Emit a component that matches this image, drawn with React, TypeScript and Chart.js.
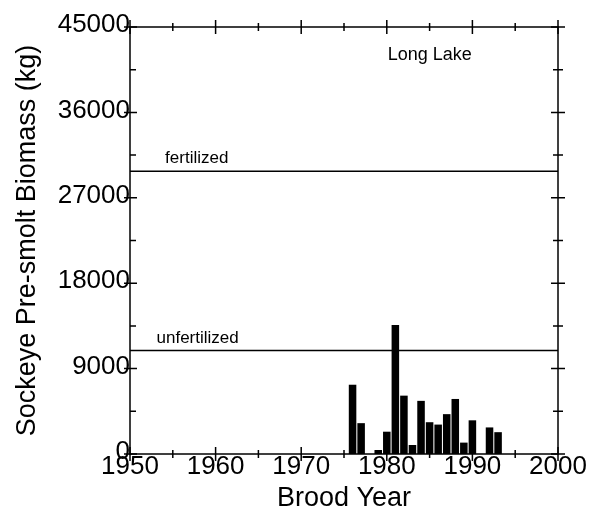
import { useEffect, useRef } from "react";
import { Chart, registerables } from "chart.js";

Chart.register(...registerables);

// ---- data ----
const broodYears = [1976, 1977, 1979, 1980, 1981, 1982, 1983, 1984, 1985, 1986, 1987, 1988, 1989, 1990, 1992, 1993];
const biomassKg = [7300, 3250, 420, 2350, 13600, 6150, 950, 5600, 3350, 3100, 4200, 5800, 1200, 3550, 2800, 2300];
const xRange = [1950, 2000];
const yRange = [0, 45000];
const xTickStep = 10;
const xMinorStep = 5;
const yTickStep = 9000;
const yMinorStep = 4500;
const fertilizedLevel = 29800;
const unfertilizedLevel = 10900;
const lakeName = "Long Lake";
const fertilizedLabel = "fertilized";
const unfertilizedLabel = "unfertilized";
const xTitle = "Brood Year";
const yTitle = "Sockeye Pre-smolt Biomass (kg)";

const FONT = '"Liberation Sans", Arial, Helvetica, sans-serif';

export default function App() {
  const ref = useRef<HTMLCanvasElement>(null);

  useEffect(() => {
    if (!ref.current) return;

    const framePlugin = {
      id: "frame",
      afterDraw(chart: any) {
        const { ctx, chartArea: a, scales } = chart;
        const x = scales.x;
        const y = scales.y;
        ctx.save();
        ctx.strokeStyle = "#000";
        ctx.lineWidth = 1.5;
        ctx.strokeRect(a.left, a.top, a.right - a.left, a.bottom - a.top);
        ctx.beginPath();
        for (let v = xRange[0]; v <= xRange[1]; v += xMinorStep) {
          const px = x.getPixelForValue(v);
          const major = v % xTickStep === 0;
          const h = major ? 7 : 4;
          ctx.moveTo(px, a.bottom - h);
          ctx.lineTo(px, a.bottom + h);
          ctx.moveTo(px, a.top - h);
          ctx.lineTo(px, a.top + h);
        }
        for (let v = yRange[0]; v <= yRange[1]; v += yMinorStep) {
          const py = y.getPixelForValue(v);
          const major = v % yTickStep === 0;
          if (major) {
            ctx.moveTo(a.left - 6, py);
            ctx.lineTo(a.left + 7, py);
          } else {
            ctx.moveTo(a.left, py);
            ctx.lineTo(a.left + 6, py);
          }
          const h = major ? 7 : 5;
          ctx.moveTo(a.right - h, py);
          ctx.lineTo(a.right + h, py);
        }
        ctx.stroke();

        ctx.fillStyle = "#000";
        ctx.textBaseline = "alphabetic";
        ctx.textAlign = "left";
        ctx.font = `18px ${FONT}`;
        ctx.fillText(lakeName, x.getPixelForValue(1980.1), y.getPixelForValue(41500));
        ctx.font = `17px ${FONT}`;
        ctx.fillText(fertilizedLabel, x.getPixelForValue(1954.1), y.getPixelForValue(fertilizedLevel) - 8);
        ctx.fillText(unfertilizedLabel, x.getPixelForValue(1953.1), y.getPixelForValue(unfertilizedLevel) - 8);
        ctx.restore();
      },
    };

    const chart = new Chart(ref.current, {
      type: "bar",
      data: {
        datasets: [
          {
            type: "bar",
            data: broodYears.map((yr, i) => ({ x: yr, y: biomassKg[i] })),
            backgroundColor: "#000",
            borderWidth: 0,
            barPercentage: 0.88,
            categoryPercentage: 1,
          } as any,
          {
            type: "line",
            data: [
              { x: xRange[0], y: fertilizedLevel },
              { x: xRange[1], y: fertilizedLevel },
            ],
            borderColor: "#000",
            borderWidth: 1.5,
            pointRadius: 0,
          } as any,
          {
            type: "line",
            data: [
              { x: xRange[0], y: unfertilizedLevel },
              { x: xRange[1], y: unfertilizedLevel },
            ],
            borderColor: "#000",
            borderWidth: 1.5,
            pointRadius: 0,
          } as any,
        ],
      },
      options: {
        responsive: false,
        animation: false,
        layout: { padding: { top: 27, right: 37, left: 0, bottom: 0 } },
        plugins: { legend: { display: false }, tooltip: { enabled: false } },
        scales: {
          x: {
            type: "linear",
            min: xRange[0],
            max: xRange[1],
            offset: false,
            grid: { display: false, drawTicks: false, offset: false },
            border: { display: false },
            ticks: {
              stepSize: xTickStep,
              autoSkip: false,
              maxRotation: 0,
              padding: -3,
              color: "#000",
              font: { family: FONT, size: 26 },
              callback: (v: any) => String(v),
            },
            title: {
              display: true,
              text: xTitle,
              color: "#000",
              font: { family: FONT, size: 27 },
              padding: { top: 0, bottom: 2 },
            },
            afterFit: (s: any) => {
              s.height = 63;
            },
          },
          y: {
            type: "linear",
            min: yRange[0],
            max: yRange[1],
            grid: { display: false, drawTicks: false },
            border: { display: false },
            ticks: {
              stepSize: yTickStep,
              padding: 0,
              labelOffset: -2,
              color: "#000",
              font: { family: FONT, size: 26 },
              callback: (v: any) => String(v),
            },
            title: {
              display: true,
              text: yTitle,
              color: "#000",
              font: { family: FONT, size: 27 },
              padding: { top: 11, bottom: 0 },
            },
            afterFit: (s: any) => {
              s.width = 130;
            },
          },
        },
      } as any,
      plugins: [framePlugin],
    });
    return () => chart.destroy();
  }, []);

  return (
    <div style={{ position: "absolute", left: 0, top: 0, width: 595, height: 517, background: "#fff" }}>
      <canvas ref={ref} width={595} height={517} style={{ display: "block" }} />
    </div>
  );
}
